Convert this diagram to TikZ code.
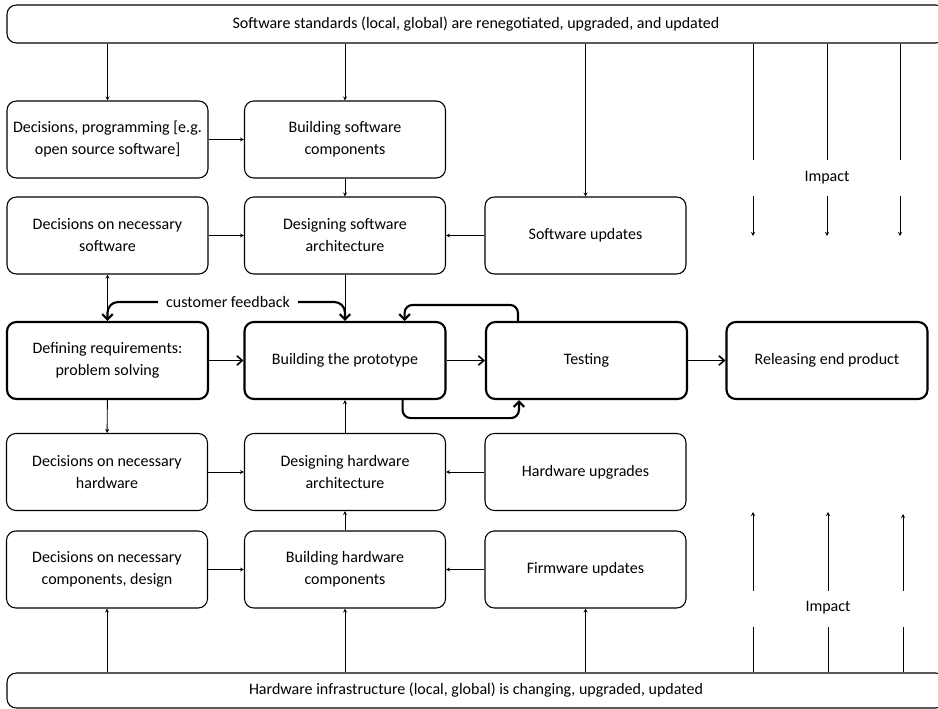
\documentclass[tikz,border=0pt]{standalone}
\usepackage{fontspec}
\setmainfont{Carlito}
\usetikzlibrary{arrows.meta}

\tikzset{
  box/.style={draw, rounded corners=7pt, line width=0.8pt, minimum width=150.75pt, minimum height=57.75pt, align=center},
  mainbox/.style={box, line width=1.6pt},
  bar/.style={draw, rounded corners=7pt, line width=0.8pt, minimum width=703.5pt},
  thinarrow/.style={line width=0.7pt, -{Stealth[length=3pt,width=3pt]}},
  mainarrow/.style={line width=1.2pt, -{Straight Barb[length=4pt,width=7pt]}},
  fbarrow/.style={line width=1.6pt, rounded corners=8pt, -{Straight Barb[length=4pt,width=8pt]}},
}

\begin{document}
\begin{tikzpicture}[x=0.75pt, y=-0.75pt, font=\fontsize{12}{16.5}\selectfont]
\path[use as bounding box, fill=white] (0,0) rectangle (938,709);
% bars
\node[bar, minimum height=28.5pt] (N_top) at (476,24) {Software standards (local, global) are renegotiated, upgraded, and updated};
\node[bar, minimum height=26.25pt] (N_bot) at (476,690.5) {Hardware infrastructure (local, global) is changing, upgraded, updated};
% software side
\node[box] (N_1_0) at (107.5,139.5) {Decisions, programming [e.g.\\ open source software]};
\node[box] (N_1_1) at (345,139.5) {Building software\\ components};
\node[box] (N_2_0) at (107.5,235.5) {Decisions on necessary\\ software};
\node[box] (N_2_1) at (345,235.5) {Designing software\\ architecture};
\node[box] (N_2_2) at (585.5,235.5) {Software updates};
% main line
\node[mainbox] (N_3_0) at (107.5,360.5) {Defining requirements:\\ problem solving};
\node[mainbox] (N_3_1) at (345,360.5) {Building the prototype};
\node[mainbox] (N_3_2) at (586.5,360.5) {Testing};
\node[mainbox] (N_3_3) at (827,360.5) {Releasing end product};
% hardware side
\node[box] (N_4_0) at (107,472) {Decisions on necessary\\ hardware};
\node[box] (N_4_1) at (345,472) {Designing hardware\\ architecture};
\node[box] (N_4_2) at (585.5,472) {Hardware upgrades};
\node[box] (N_5_0) at (107,569.5) {Decisions on necessary\\ components, design};
\node[box] (N_5_1) at (345,569.5) {Building hardware\\ components};
\node[box] (N_5_2) at (585.5,569.5) {Firmware updates};
% labels
\node[inner xsep=6pt] (fb) at (228,302) {customer feedback};
\node (imp_top) at (827,178) {Impact};
\node (imp_bot) at (828,608) {Impact};

% software arrows
\draw[thinarrow] (N_1_0.north |- N_top.south) -- (N_1_0.north);
\draw[thinarrow] (N_1_1.north |- N_top.south) -- (N_1_1.north);
\draw[thinarrow] (N_2_2.north |- N_top.south) -- (N_2_2.north);
\draw[thinarrow] (N_1_0) -- (N_1_1);
\draw[thinarrow] (N_1_1) -- (N_2_1);
\draw[thinarrow] (N_2_0) -- (N_2_1);
\draw[thinarrow] (N_2_2) -- (N_2_1);
\draw[thinarrow] (N_3_0) -- (N_2_0);
\draw[thinarrow] (N_2_1) -- (N_3_1);
% hardware arrows
\draw[thinarrow] (N_3_0) -- (N_4_0);
\draw[thinarrow] (N_4_1) -- (N_3_1);
\draw[thinarrow] (N_4_0) -- (N_4_1);
\draw[thinarrow] (N_4_2) -- (N_4_1);
\draw[thinarrow] (N_5_1) -- (N_4_1);
\draw[thinarrow] (N_5_0) -- (N_5_1);
\draw[thinarrow] (N_5_2) -- (N_5_1);
\draw[thinarrow] (N_5_0.south |- N_bot.north) -- (N_5_0.south);
\draw[thinarrow] (N_5_1.south |- N_bot.north) -- (N_5_1.south);
\draw[thinarrow] (N_5_2.south |- N_bot.north) -- (N_5_2.south);
% main line arrows
\draw[mainarrow] (N_3_0) -- (N_3_1);
\draw[mainarrow] (N_3_1) -- (N_3_2);
\draw[mainarrow] (N_3_2) -- (N_3_3);
\draw[fbarrow] (fb.west) -| (N_3_0.north);
\draw[fbarrow] (fb.east) -| (N_3_1.north);
\draw[fbarrow, rounded corners=6pt] ([xshift=24.75pt]N_3_2.north west) -- ++(0,-16) -| ([xshift=-31.5pt]N_3_1.north east);
\draw[fbarrow, rounded corners=6pt] ([xshift=-33pt]N_3_1.south east) -- ++(0,18) -| ([xshift=25.5pt]N_3_2.south west);
% impact
\foreach \x in {753,827,900} {
  \draw[line width=0.7pt] (N_top.south -| \x,0) -- (\x,160);
  \draw[thinarrow] (\x,196) -- (\x,236);
}
\foreach \x/\t in {753/512,828/512,903/514} {
  \draw[thinarrow] (\x,591) -- (\x,\t);
  \draw[line width=0.7pt] (\x,627) -- (N_bot.north -| \x,0);
}
\end{tikzpicture}
\end{document}
